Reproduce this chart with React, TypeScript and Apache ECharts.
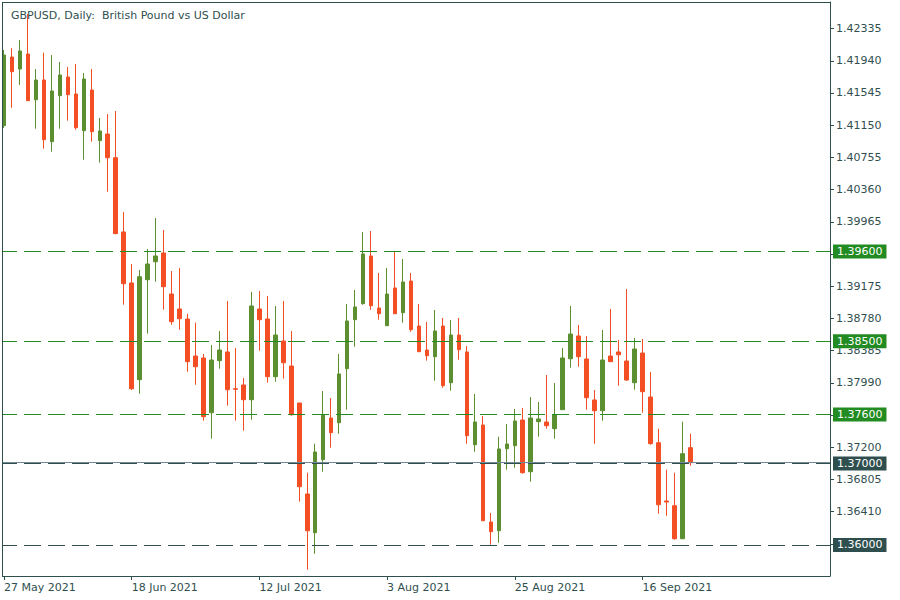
import React, { useEffect, useRef } from "react";
import * as echarts from "echarts";

const dates = [
  "27 May 2021", "28 May 2021", "31 May 2021",
  "1 Jun 2021", "2 Jun 2021", "3 Jun 2021", "4 Jun 2021",
  "7 Jun 2021", "8 Jun 2021", "9 Jun 2021", "10 Jun 2021", "11 Jun 2021",
  "14 Jun 2021", "15 Jun 2021", "16 Jun 2021", "17 Jun 2021", "18 Jun 2021",
  "21 Jun 2021", "22 Jun 2021", "23 Jun 2021", "24 Jun 2021", "25 Jun 2021",
  "28 Jun 2021", "29 Jun 2021", "30 Jun 2021", "1 Jul 2021", "2 Jul 2021",
  "5 Jul 2021", "6 Jul 2021", "7 Jul 2021", "8 Jul 2021", "9 Jul 2021",
  "12 Jul 2021", "13 Jul 2021", "14 Jul 2021", "15 Jul 2021", "16 Jul 2021",
  "19 Jul 2021", "20 Jul 2021", "21 Jul 2021", "22 Jul 2021", "23 Jul 2021",
  "26 Jul 2021", "27 Jul 2021", "28 Jul 2021", "29 Jul 2021", "30 Jul 2021",
  "2 Aug 2021", "3 Aug 2021", "4 Aug 2021", "5 Aug 2021", "6 Aug 2021",
  "9 Aug 2021", "10 Aug 2021", "11 Aug 2021", "12 Aug 2021", "13 Aug 2021",
  "16 Aug 2021", "17 Aug 2021", "18 Aug 2021", "19 Aug 2021", "20 Aug 2021",
  "23 Aug 2021", "24 Aug 2021", "25 Aug 2021", "26 Aug 2021", "27 Aug 2021",
  "30 Aug 2021", "31 Aug 2021", "1 Sep 2021", "2 Sep 2021", "3 Sep 2021",
  "6 Sep 2021", "7 Sep 2021", "8 Sep 2021", "9 Sep 2021", "10 Sep 2021",
  "13 Sep 2021", "14 Sep 2021", "15 Sep 2021", "16 Sep 2021", "17 Sep 2021",
  "20 Sep 2021", "21 Sep 2021", "22 Sep 2021", "23 Sep 2021", "24 Sep 2021",
];

const opens = [
  1.41144, 1.41986, 1.41839, 1.42023, 1.41462, 1.41704, 1.40947, 1.41512, 1.41741, 1.41532,
  1.41082, 1.41581, 1.40960, 1.41042, 1.40751, 1.39840, 1.39214, 1.38028, 1.39254, 1.39475,
  1.39582, 1.39079, 1.38895, 1.38772, 1.38318, 1.38294, 1.37623, 1.38261, 1.38368, 1.37917,
  1.37963, 1.37782, 1.38895, 1.38772, 1.38065, 1.38502, 1.38196, 1.37742, 1.36626, 1.36151,
  1.37046, 1.37558, 1.37500, 1.38163, 1.38764, 1.38960, 1.39545, 1.38907, 1.38690, 1.39153,
  1.38850, 1.39238, 1.38686, 1.38392, 1.38310, 1.38686, 1.37991, 1.38576, 1.38368, 1.37230,
  1.37472, 1.36282, 1.36175, 1.37181, 1.37218, 1.37533, 1.36899, 1.37513, 1.37509, 1.37427,
  1.37660, 1.38285, 1.38564, 1.38282, 1.37779, 1.37647, 1.38318, 1.38368, 1.38257, 1.37991,
  1.38355, 1.37815, 1.37255, 1.36540, 1.36482, 1.36077, 1.37194,
];
const closes = [
  1.42011, 1.41806, 1.42060, 1.41450, 1.41704, 1.40972, 1.41569, 1.41765, 1.41524, 1.41119,
  1.41716, 1.41070, 1.41078, 1.40751, 1.39819, 1.39205, 1.37917, 1.39291, 1.39447, 1.39545,
  1.39169, 1.38739, 1.38776, 1.38249, 1.38187, 1.37574, 1.38269, 1.38392, 1.37905, 1.37910,
  1.37782, 1.38932, 1.38764, 1.38065, 1.38576, 1.38236, 1.37598, 1.36715, 1.36175, 1.37141,
  1.37598, 1.37378, 1.38098, 1.38748, 1.38920, 1.39570, 1.38935, 1.38837, 1.39079, 1.38837,
  1.39226, 1.38641, 1.38371, 1.38322, 1.38625, 1.37954, 1.38576, 1.38396, 1.37341, 1.37509,
  1.36298, 1.36163, 1.37178, 1.37239, 1.37521, 1.36887, 1.37558, 1.37546, 1.37463, 1.37595,
  1.38294, 1.38588, 1.38310, 1.37807, 1.37647, 1.38269, 1.38249, 1.38334, 1.38024, 1.38404,
  1.37881, 1.37243, 1.36494, 1.36527, 1.36077, 1.37120, 1.37010,
];
const lows = [
  1.41115, 1.41364, 1.41643, 1.41447, 1.41107, 1.40861, 1.40825, 1.41107, 1.41205, 1.41094,
  1.40726, 1.40947, 1.40690, 1.40334, 1.39815, 1.38948, 1.37901, 1.37856, 1.38592, 1.39230,
  1.38886, 1.38702, 1.38641, 1.38126, 1.37966, 1.37525, 1.37304, 1.38163, 1.37709, 1.37525,
  1.37402, 1.37537, 1.38383, 1.37991, 1.38003, 1.38040, 1.37586, 1.36531, 1.35697, 1.35893,
  1.36899, 1.37194, 1.37365, 1.37660, 1.38433, 1.38948, 1.38886, 1.38764, 1.38690, 1.38837,
  1.38727, 1.38617, 1.38371, 1.38261, 1.38015, 1.37930, 1.37893, 1.38273, 1.37243, 1.37144,
  1.36298, 1.36004, 1.36028, 1.36924, 1.36948, 1.36875, 1.36777, 1.37329, 1.37427, 1.37304,
  1.37660, 1.38175, 1.38187, 1.37660, 1.37243, 1.37525, 1.38249, 1.37954, 1.38015, 1.37905,
  1.37623, 1.37230, 1.36384, 1.36359, 1.36065, 1.36077, 1.36973,
];
const highs = [
  1.42072, 1.42093, 1.42195, 1.42514, 1.41839, 1.42039, 1.42011, 1.41925, 1.41864, 1.41900,
  1.41790, 1.41839, 1.41238, 1.41287, 1.41324, 1.40085, 1.39447, 1.39373, 1.39631, 1.40011,
  1.39864, 1.39361, 1.39398, 1.38837, 1.38727, 1.38343, 1.38453, 1.38625, 1.38993, 1.38417,
  1.38049, 1.39104, 1.39116, 1.39055, 1.38932, 1.38993, 1.38625, 1.37742, 1.36887, 1.37243,
  1.37889, 1.37803, 1.38343, 1.38956, 1.39128, 1.39840, 1.39852, 1.39337, 1.39398, 1.39594,
  1.39508, 1.39337, 1.38956, 1.38736, 1.38883, 1.38785, 1.38760, 1.38785, 1.38441, 1.37852,
  1.37582, 1.36393, 1.37329, 1.37484, 1.37668, 1.37681, 1.37815, 1.37754, 1.38085, 1.37987,
  1.38417, 1.38932, 1.38699, 1.38564, 1.37901, 1.38637, 1.38895, 1.38515, 1.39140, 1.38539,
  1.38527, 1.38122, 1.37427, 1.36924, 1.36887, 1.37513, 1.37365,
];

const priceTicks = [
  1.36015, 1.36410, 1.36805, 1.37200, 1.37595, 1.37990, 1.38385, 1.38780, 1.39175,
  1.39570, 1.39965, 1.40360, 1.40755, 1.41150, 1.41545, 1.41940, 1.42335,
];
const greenLevels = [1.396, 1.385, 1.376];
const darkLevels = [1.37, 1.36];
const emptySlots = 17;

const TITLE = "GBPUSD, Daily:  British Pound vs US Dollar";
const GREEN = "#5B8F2F";
const RED = "#F44E24";
const LEVEL_GREEN = "#228B22";
const DARK = "#2F4F4F";
const FONT = "DejaVu Sans";

export default function App() {
  const ref = useRef<HTMLDivElement>(null);
  useEffect(() => {
    const chart = echarts.init(ref.current as HTMLDivElement, null, { renderer: "svg" });
    const cats = dates.concat(Array.from({ length: emptySlots }, (_, i) => "_" + i));
    const data = opens.map((o, i) => [o, closes[i], lows[i], highs[i]]);
    const lastClose = closes[closes.length - 1];
    const showIdx = (i: number) => i < dates.length && i % 16 === 0;
    const lvlLabel = (bg: string) => ({ backgroundColor: bg });
    chart.setOption({
      animation: false,
      backgroundColor: "#ffffff",
      title: {
        text: TITLE,
        left: 6,
        top: 5,
        textStyle: { fontSize: 11, fontWeight: "normal", color: DARK, fontFamily: FONT },
      },
      grid: { left: -2, top: 2, width: 832, height: 574, containLabel: false },
      xAxis: {
        type: "category",
        data: cats,
        boundaryGap: true,
        axisLine: { show: true, lineStyle: { color: DARK, width: 1 } },
        axisTick: {
          show: true,
          alignWithLabel: true,
          length: 4,
          interval: (i: number) => showIdx(i),
          lineStyle: { color: DARK },
        },
        axisLabel: {
          interval: (i: number) => showIdx(i),
          align: "left",
          margin: 6,
          color: DARK,
          fontFamily: FONT,
          fontSize: 11,
        },
        splitLine: { show: false },
      },
      yAxis: {
        type: "value",
        position: "right",
        min: 1.356197,
        max: 1.426609,
        scale: true,
        axisLine: { show: true, lineStyle: { color: DARK, width: 1 } },
        axisTick: { show: true, length: 4, customValues: priceTicks, lineStyle: { color: DARK } },
        axisLabel: {
          customValues: priceTicks,
          formatter: (v: number) => v.toFixed(5),
          margin: 6,
          color: DARK,
          fontFamily: FONT,
          fontSize: 11,
        },
        splitLine: { show: false },
      },
      series: [
        {
          type: "candlestick",
          data,
          barWidth: 4,
          clip: true,
          itemStyle: {
            color: GREEN,
            color0: RED,
            borderColor: GREEN,
            borderColor0: RED,
            borderWidth: 1,
          },
          markLine: {
            symbol: "none",
            silent: true,
            animation: false,
            precision: 5,
            label: {
              show: true,
              position: "end",
              distance: 3,
              formatter: (p: any) => Number(p.value).toFixed(5),
              color: "#ffffff",
              fontFamily: FONT,
              fontSize: 11,
              lineHeight: 13,
              padding: [1, 4, 0, 4],
            },
            data: [
              ...greenLevels.map((v) => ({
                yAxis: v,
                lineStyle: { color: LEVEL_GREEN, type: [17, 7], width: 1 },
                label: lvlLabel(LEVEL_GREEN),
              })),
              {
                yAxis: lastClose,
                lineStyle: { color: "#778899", type: "solid", width: 1 },
                label: { show: false },
              },
              ...darkLevels.map((v) => ({
                yAxis: v,
                lineStyle: { color: DARK, type: [17, 7], width: 1 },
                label: lvlLabel(DARK),
              })),
            ],
          },
        },
      ],
      graphic: [
        { type: "rect", z: 100, shape: { x: 0, y: 0, width: 2, height: 600 }, style: { fill: "#ffffff" } },
        { type: "line", z: 101, shape: { x1: 2.5, y1: 2, x2: 2.5, y2: 577 }, style: { stroke: DARK, lineWidth: 1 } },
        { type: "line", z: 101, shape: { x1: 2, y1: 2.5, x2: 830.5, y2: 2.5 }, style: { stroke: DARK, lineWidth: 1 } },
      ],
    });
    return () => chart.dispose();
  }, []);
  return (
    <div
      ref={ref}
      style={{ position: "fixed", left: 0, top: 0, width: 900, height: 600, background: "#fff" }}
    />
  );
}
